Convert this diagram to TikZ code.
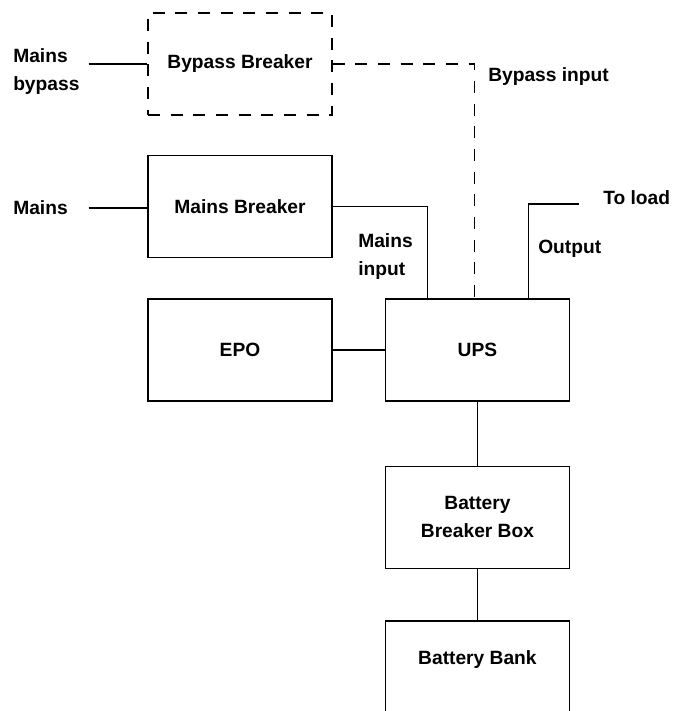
\documentclass[tikz,border=0pt]{standalone}
\usepackage{fontspec}
\setmainfont{Liberation Sans}
\usetikzlibrary{positioning}
\tikzset{
    % Base Block Style
    unit/.style={
        rectangle,
        minimum width=138pt,
        minimum height=76.5pt,
        align=center,
        font=\bfseries\fontsize{14.4}{21}\selectfont,
        draw=black,
        line width=1.1pt
    },
    % Specific Role Styles
    unitOptional/.style={unit, dash pattern=on 9pt off 8pt},
    % Wire & Label Styles
    wire/.style={draw=black, line width=1.1pt},
    wireOptional/.style={wire, dash pattern=on 9pt off 8pt},
    wireLabel/.style={font=\bfseries\fontsize{14.4}{21}\selectfont, align=left, inner sep=0pt}
}

\begin{document}
\begin{tikzpicture}[x=0.75pt, y=-0.75pt]
    \clip (0,0) rectangle (673,711);

    % --- LEFT COLUMN (Breakers & EPO) ---
    \node (bypassBrk) [unitOptional] at (240,64) {Bypass Breaker};
    \node (mainsBrk) [unit, below=29.25pt of bypassBrk] {Mains Breaker};
    \node (epo) [unit, below=30pt of mainsBrk] {EPO};

    % --- RIGHT COLUMN (UPS & Batteries) ---
    \node (ups) [unit, right=39pt of epo] {UPS};
    \node (batBrk) [unit, below=48pt of ups] {Battery\\Breaker Box};
    \node (batBank) [unit, text depth=21pt, below=38.25pt of batBrk] {Battery Bank};

    % --- Feed Labels ---
    \node (lblBypass) [wireLabel, text width=56.25pt, anchor=west] at (13,72) {Mains\\bypass};
    \node (lblMains) [wireLabel, text width=56.25pt, anchor=west] at (13,208) {Mains};
    \node (lblBypassIn) [wireLabel, anchor=west] at (488,77) {Bypass input};
    \node (lblMainsIn) [wireLabel, anchor=west] at (358,257) {Mains\\input};
    \node (lblOutput) [wireLabel, anchor=west] at (538,249) {Output};
    \node (lblLoad) [wireLabel, anchor=west] at (603,198) {To load};
    \coordinate (loadEnd) at (579,204);

    % --- Wiring ---
    \draw [wire] (lblBypass.east |- bypassBrk) -- (bypassBrk);
    \draw [wire] (lblMains.east) -- (lblMains.east -| mainsBrk.west);
    \draw [wireOptional] (bypassBrk.east) -| ([xshift=-2.25pt]ups.north); % Bypass feed
    \draw [wire] (mainsBrk.east) -| ([xshift=-37.5pt]ups.north);
    \draw [wire] ([xshift=38.25pt]ups.north) |- (loadEnd);
    \draw [wire] (epo) -- (ups);
    \draw [wire] (ups) -- (batBrk);
    \draw [wire] (batBrk) -- (batBank);

\end{tikzpicture}
\end{document}
